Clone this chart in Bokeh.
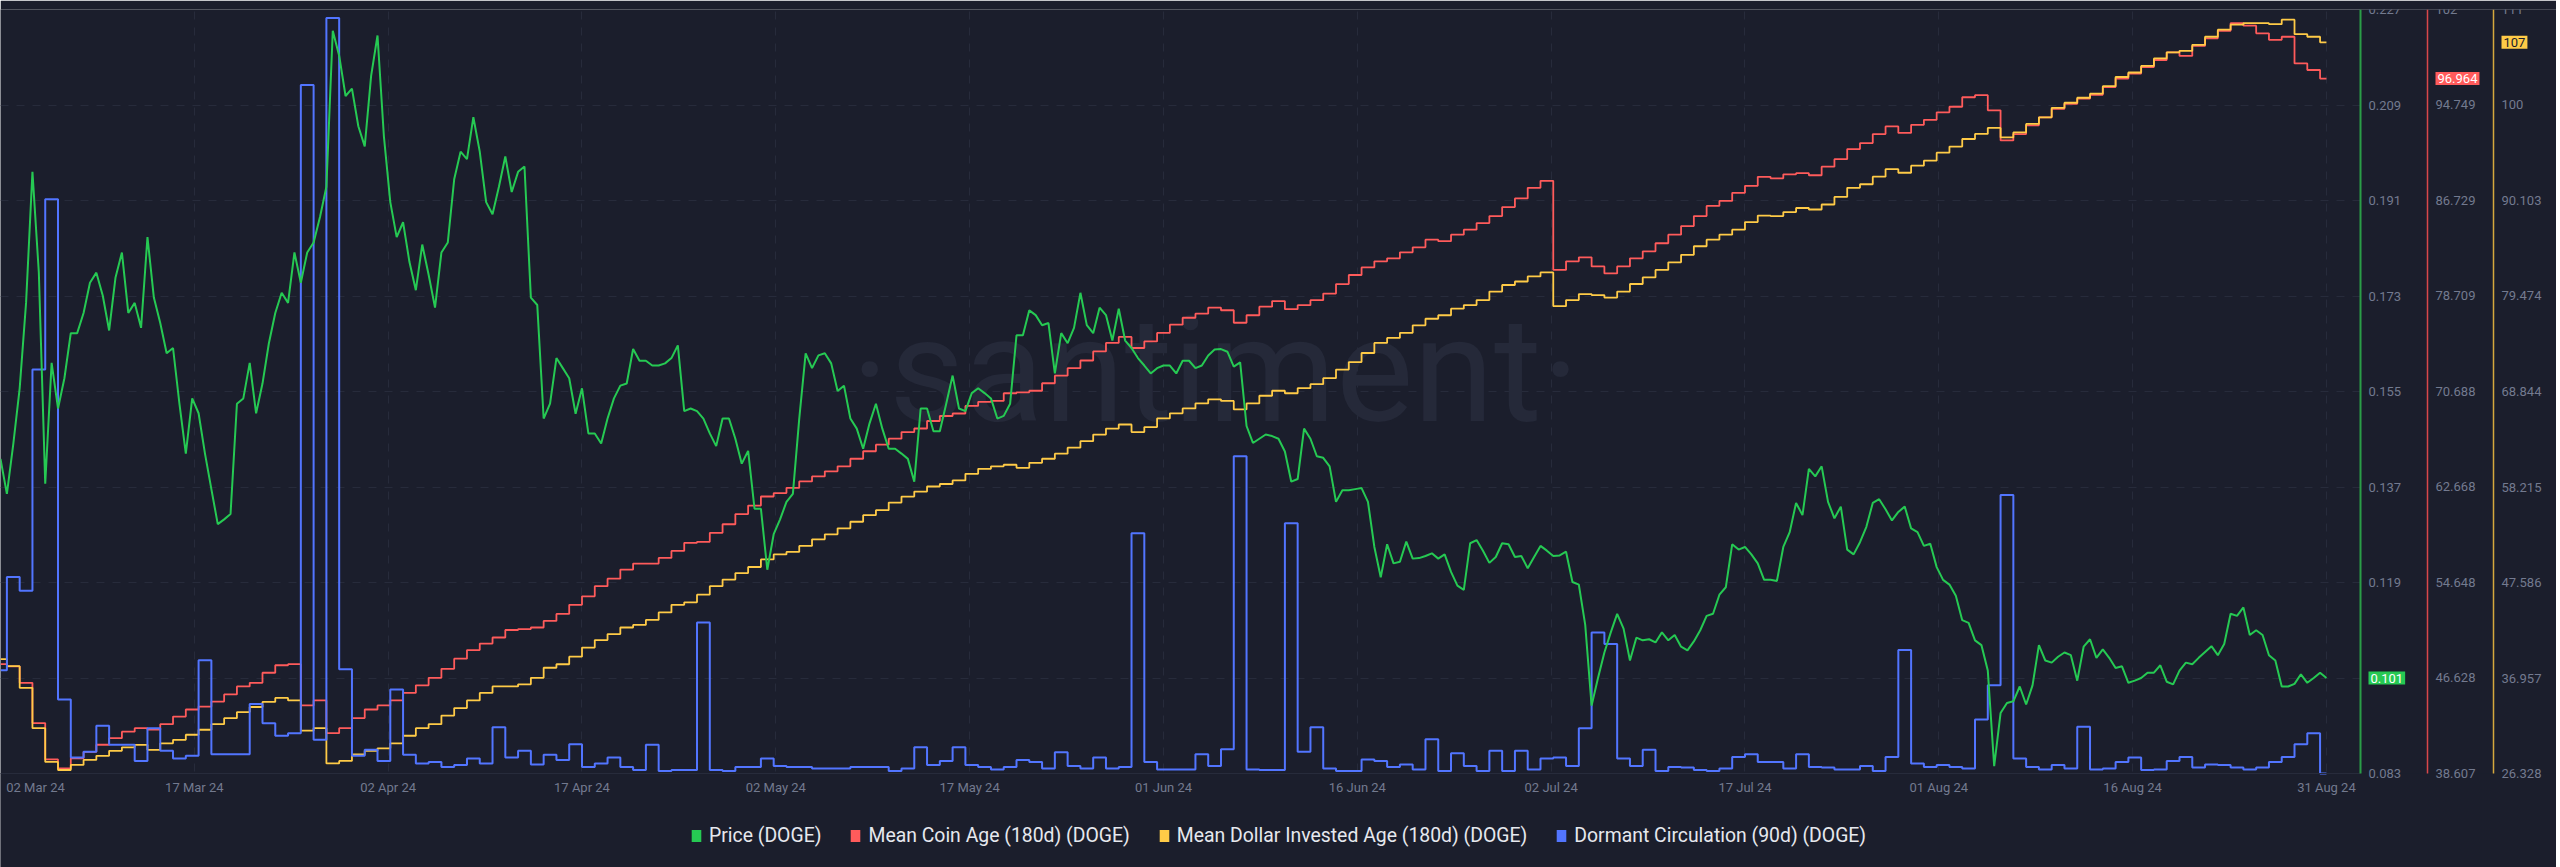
import datetime as dt
from bokeh.plotting import figure
from bokeh.models import (Range1d, LinearAxis, FixedTicker, Label, Legend, LegendItem, BoxAnnotation)
from bokeh.embed import file_html
from bokeh.resources import INLINE

# ---------------- data ----------------
START = dt.datetime(2024, 3, 2, 12, 0)   # first sample (price every 12h, daily metrics at noon)

price_doge = [
    0.1423, 0.1357, 0.1451, 0.1556, 0.1717, 0.1964, 0.1774, 0.1376, 0.1604, 0.1518,
    0.1575, 0.1660, 0.1660, 0.1698, 0.1755, 0.1774, 0.1731, 0.1665, 0.1765, 0.1812,
    0.1698, 0.1717, 0.1670, 0.1841, 0.1727, 0.1679, 0.1622, 0.1632, 0.1527, 0.1433,
    0.1537, 0.1509, 0.1433, 0.1366, 0.1300, 0.1309, 0.1319, 0.1527, 0.1537, 0.1604,
    0.1509, 0.1565, 0.1641, 0.1698, 0.1736, 0.1717, 0.1812, 0.1755, 0.1812, 0.1831,
    0.1879, 0.1936, 0.2230, 0.2183, 0.2107, 0.2121, 0.2050, 0.2012, 0.2145, 0.2221,
    0.2031, 0.1907, 0.1841, 0.1869, 0.1794, 0.1741, 0.1827, 0.1770, 0.1708, 0.1812,
    0.1831, 0.1950, 0.2002, 0.1988, 0.2067, 0.2002, 0.1907, 0.1884, 0.1936, 0.1993,
    0.1926, 0.1964, 0.1974, 0.1727, 0.1713, 0.1499, 0.1527, 0.1613, 0.1594, 0.1575,
    0.1508, 0.1556, 0.1471, 0.1471, 0.1452, 0.1499, 0.1537, 0.1561, 0.1565, 0.1630,
    0.1608, 0.1608, 0.1599, 0.1599, 0.1603, 0.1613, 0.1637, 0.1513, 0.1518, 0.1513,
    0.1499, 0.1471, 0.1447, 0.1499, 0.1499, 0.1461, 0.1414, 0.1438, 0.1329, 0.1329,
    0.1214, 0.1281, 0.1309, 0.1342, 0.1357, 0.1499, 0.1622, 0.1594, 0.1618, 0.1622,
    0.1603, 0.1551, 0.1561, 0.1499, 0.1480, 0.1442, 0.1490, 0.1527, 0.1480, 0.1442,
    0.1442, 0.1433, 0.1423, 0.1380, 0.1518, 0.1518, 0.1475, 0.1475, 0.1527, 0.1580,
    0.1518, 0.1513, 0.1547, 0.1556, 0.1547, 0.1537, 0.1499, 0.1504, 0.1527, 0.1656,
    0.1656, 0.1703, 0.1694, 0.1675, 0.1679, 0.1584, 0.1660, 0.1641, 0.1670, 0.1736,
    0.1675, 0.1660, 0.1708, 0.1694, 0.1646, 0.1706, 0.1646, 0.1632, 0.1613, 0.1599,
    0.1584, 0.1594, 0.1599, 0.1599, 0.1584, 0.1608, 0.1608, 0.1594, 0.1599, 0.1618,
    0.1629, 0.1630, 0.1625, 0.1597, 0.1605, 0.1485, 0.1453, 0.1461, 0.1469, 0.1466,
    0.1461, 0.1437, 0.1380, 0.1385, 0.1480, 0.1461, 0.1428, 0.1425, 0.1409, 0.1342,
    0.1364, 0.1364, 0.1366, 0.1368, 0.1342, 0.1257, 0.1200, 0.1262, 0.1226, 0.1229,
    0.1267, 0.1235, 0.1236, 0.1240, 0.1245, 0.1235, 0.1243, 0.1210, 0.1184, 0.1176,
    0.1264, 0.1270, 0.1250, 0.1227, 0.1238, 0.1264, 0.1262, 0.1238, 0.1240, 0.1217,
    0.1238, 0.1259, 0.1250, 0.1240, 0.1241, 0.1248, 0.1191, 0.1186, 0.1110, 0.0958,
    0.1010, 0.1058, 0.1096, 0.1131, 0.1103, 0.1043, 0.1086, 0.1081, 0.1083, 0.1077,
    0.1096, 0.1081, 0.1091, 0.1069, 0.1062, 0.1079, 0.1100, 0.1127, 0.1131, 0.1167,
    0.1181, 0.1262, 0.1252, 0.1257, 0.1243, 0.1226, 0.1195, 0.1195, 0.1193, 0.1257,
    0.1285, 0.1340, 0.1317, 0.1404, 0.1390, 0.1409, 0.1342, 0.1311, 0.1333, 0.1252,
    0.1243, 0.1266, 0.1295, 0.1340, 0.1347, 0.1328, 0.1307, 0.1323, 0.1333, 0.1292,
    0.1285, 0.1259, 0.1263, 0.1219, 0.1195, 0.1186, 0.1165, 0.1119, 0.1114, 0.1081,
    0.1072, 0.1024, 0.0844, 0.0944, 0.0963, 0.0966, 0.0994, 0.0960, 0.0996, 0.1072,
    0.1043, 0.1039, 0.1050, 0.1058, 0.1053, 0.1005, 0.1069, 0.1083, 0.1048, 0.1064,
    0.1048, 0.1029, 0.1032, 0.1001, 0.1005, 0.1010, 0.1020, 0.1020, 0.1034, 0.1003,
    0.0998, 0.1024, 0.1039, 0.1036, 0.1048, 0.1059, 0.1070, 0.1053, 0.1074, 0.1131,
    0.1127, 0.1143, 0.1091, 0.1100, 0.1091, 0.1053, 0.1043, 0.0994, 0.0994, 0.0999,
    0.1017, 0.1001, 0.1010, 0.1020, 0.1010,
]

mean_coin_age = [
    47.79, 47.61, 46.22, 42.84, 39.79, 39.03, 39.88, 40.43, 41.02, 41.57,
    42.12, 42.41, 42.29, 42.75, 43.39, 43.98, 44.23, 44.65, 45.25, 45.92,
    46.22, 47.07, 47.70, 47.79, 44.32, 44.74, 41.99, 42.41, 43.26, 43.98,
    44.32, 44.74, 45.37, 46.01, 46.64, 47.40, 48.25, 48.97, 49.52, 50.03,
    50.66, 50.74, 50.87, 51.42, 52.01, 52.77, 53.49, 54.34, 54.97, 55.73,
    56.24, 56.24, 56.71, 57.30, 57.98, 58.06, 58.82, 59.54, 60.39, 61.11,
    61.87, 62.16, 62.59, 63.14, 63.56, 63.98, 64.40, 65.04, 65.67, 66.22,
    66.73, 67.28, 67.58, 68.21, 68.63, 68.84, 69.48, 69.82, 69.90, 70.54,
    70.62, 70.75, 71.38, 72.02, 72.65, 73.29, 74.05, 74.77, 75.27, 74.34,
    74.89, 75.61, 76.30, 76.88, 77.22, 77.73, 77.51, 76.46, 77.09, 77.81,
    78.28, 77.60, 77.94, 78.36, 78.91, 79.71, 80.47, 81.11, 81.62, 81.87,
    82.38, 82.80, 83.44, 83.31, 83.86, 84.28, 84.83, 85.42, 86.18, 86.90,
    87.79, 88.38, 80.90, 81.62, 81.96, 81.19, 80.60, 81.19, 81.87, 82.46,
    83.14, 83.86, 84.58, 85.42, 86.27, 86.69, 87.37, 87.96, 88.72, 88.59,
    88.93, 89.02, 88.85, 89.57, 90.20, 91.05, 91.55, 92.31, 92.95, 92.40,
    93.08, 93.50, 94.13, 94.60, 95.40, 95.57, 94.30, 91.77, 92.31, 93.04,
    93.71, 94.43, 94.85, 95.28, 95.61, 96.25, 96.97, 97.39, 97.94, 98.53,
    99.17, 98.87, 99.71, 100.35, 100.98, 101.62, 101.41, 100.77, 100.22, 100.48,
    98.24, 97.69, 96.964,
]

mean_dollar_invested_age = [
    39.05, 38.27, 35.86, 31.37, 27.62, 26.72, 27.28, 27.84, 28.29, 28.85,
    29.24, 29.52, 28.96, 29.69, 30.08, 30.64, 31.20, 31.82, 32.49, 33.17,
    33.73, 34.29, 34.74, 34.46, 31.09, 31.37, 27.45, 27.73, 28.46, 28.85,
    29.13, 29.69, 30.53, 31.37, 31.82, 32.77, 33.61, 34.46, 35.30, 36.02,
    36.02, 36.25, 36.98, 38.10, 38.49, 39.33, 40.34, 41.18, 41.85, 42.58,
    42.86, 43.42, 44.26, 45.10, 45.38, 46.23, 47.18, 47.91, 48.64, 49.31,
    50.15, 50.71, 50.99, 51.66, 52.39, 52.95, 53.62, 54.35, 55.08, 55.64,
    56.48, 57.15, 57.71, 58.27, 58.55, 58.95, 59.68, 60.24, 60.52, 60.69,
    60.35, 60.91, 61.36, 61.92, 62.59, 63.32, 64.05, 64.72, 65.17, 64.33,
    64.89, 65.85, 66.41, 66.96, 67.52, 67.97, 67.80, 66.85, 67.52, 68.37,
    68.93, 68.65, 69.21, 69.66, 70.33, 71.28, 72.12, 73.13, 74.25, 74.81,
    75.37, 76.21, 76.94, 77.33, 78.06, 78.46, 79.02, 79.97, 80.70, 81.09,
    81.65, 82.10, 78.34, 79.02, 79.69, 79.58, 79.30, 79.97, 80.81, 81.54,
    82.38, 83.22, 84.06, 85.01, 85.74, 86.30, 86.86, 87.70, 88.43, 88.37,
    88.82, 89.27, 89.10, 89.66, 90.50, 91.51, 91.91, 92.75, 93.59, 93.19,
    93.98, 94.54, 95.43, 96.11, 96.95, 97.51, 98.18, 97.12, 97.68, 98.63,
    99.36, 100.42, 100.98, 101.54, 101.99, 102.83, 103.85, 104.35, 105.08, 105.92,
    106.59, 106.76, 107.43, 108.33, 109.11, 109.67, 109.84, 109.84, 109.73, 110.23,
    108.61, 108.33, 107.71,
]

dormant_circulation_m = [
    410, 780, 726, 1604, 2280, 294, 64, 86, 190, 114,
    114, 50, 180, 90, 60, 70, 450, 76, 76, 76,
    276, 200, 150, 160, 2734, 134, 3000, 414, 70, 94,
    50, 334, 74, 40, 46, 26, 34, 60, 40, 184,
    64, 90, 36, 74, 54, 116, 26, 40, 64, 26,
    14, 114, 10, 14, 14, 600, 14, 10, 26, 26,
    60, 30, 26, 26, 20, 20, 20, 26, 26, 26,
    10, 20, 104, 34, 50, 104, 34, 26, 16, 26,
    54, 46, 20, 84, 30, 20, 64, 20, 26, 954,
    46, 16, 16, 16, 76, 30, 96, 1260, 16, 14,
    14, 994, 86, 184, 20, 10, 10, 56, 50, 26,
    36, 16, 136, 10, 80, 30, 10, 90, 10, 90,
    16, 60, 64, 30, 180, 560, 514, 60, 30, 94,
    10, 26, 24, 14, 10, 20, 66, 76, 46, 46,
    20, 76, 26, 24, 16, 16, 30, 10, 66, 490,
    40, 26, 34, 26, 20, 214, 350, 1106, 60, 26,
    16, 34, 20, 186, 16, 20, 46, 64, 14, 16,
    50, 66, 24, 36, 34, 24, 16, 24, 46, 66,
    116, 160, 0,
]

x_tick_labels = ["02 Mar 24", "17 Mar 24", "02 Apr 24", "17 Apr 24", "02 May 24",
                 "17 May 24", "01 Jun 24", "16 Jun 24", "02 Jul 24", "17 Jul 24",
                 "01 Aug 24", "16 Aug 24", "31 Aug 24"]
price_ticks = [0.083, 0.101, 0.119, 0.137, 0.155, 0.173, 0.191, 0.209, 0.227]
price_tick_labels = ["0.083", "0.101", "0.119", "0.137", "0.155", "0.173", "0.191", "0.209", "0.227"]
age_ticks = [38.607, 46.628, 54.648, 62.668, 70.688, 78.709, 86.729, 94.749, 102.769]
age_tick_labels = ["38.607", "46.628", "54.648", "62.668", "70.688", "78.709", "86.729", "94.749", "102"]
mdia_ticks = [26.328, 36.957, 47.586, 58.215, 68.844, 79.474, 90.103, 100.732, 111.361]
mdia_tick_labels = ["26.328", "36.957", "47.586", "58.215", "68.844", "79.474", "90.103", "100", "111"]
dormant_range = (0, 3034)

series_names = ["Price (DOGE)", "Mean Coin Age (180d) (DOGE)",
                "Mean Dollar Invested Age (180d) (DOGE)", "Dormant Circulation (90d) (DOGE)"]

# ---------------- styling / layout ----------------
BG = "#1b1e2c"
GRID = "#272b3b"
TICK_TXT = "#737a8f"
GREEN, RED, YELLOW, BLUE = "#26c953", "#ff5b5b", "#ffcb47", "#5275ff"
FONT = "Roboto"
PX_PER_DAY = 12.78
W, H, TOP = 2556, 867, 9
PLOT_H = 764                          # height of the data area (top 9 .. bottom 773)
PLOT_RIGHT = 2360                     # where the price axis sits
AXIS_X = [2360, 2427, 2493]           # axis line positions (px)
EXT = (H - TOP) / PLOT_H              # frame also hosts the legend strip below the data

EPOCH = dt.datetime(1970, 1, 1)


def at_px(px):
    return START + dt.timedelta(days=px / PX_PER_DAY)


def ms(t):
    return float(round((t - EPOCH).total_seconds() * 1000))


def ext_range(lo, hi):
    return Range1d(hi - (hi - lo) * EXT, hi)


price_t = [START + dt.timedelta(hours=12 * i) for i in range(len(price_doge))]
daily_t = [START + dt.timedelta(days=i) for i in range(len(mean_coin_age))]

span_days = (daily_t[-1] - daily_t[0]).total_seconds() / 86400.0
tick_days = [k * span_days / 12 for k in range(13)]
tick_days[0] = 35 / PX_PER_DAY          # first label kept inside the left edge
tick_ms = [ms(START + dt.timedelta(days=d)) for d in tick_days]

p = figure(width=W, height=H, x_axis_type="datetime",
           x_range=Range1d(START, at_px(W)),
           y_range=ext_range(price_ticks[0], price_ticks[-1]),
           y_axis_location="right", output_backend="svg", toolbar_location=None,
           background_fill_color=BG, border_fill_color=BG, outline_line_color=None,
           min_border_left=0, min_border_top=TOP, min_border_right=0, min_border_bottom=0)

p.extra_y_ranges = {
    "age": ext_range(age_ticks[0], age_ticks[-1]),
    "mdia": ext_range(mdia_ticks[0], mdia_ticks[-1]),
    "dormant": ext_range(*dormant_range),
}

# grids (masked right of the price axis and below the time axis)
p.xgrid.ticker = FixedTicker(ticks=tick_ms[1:])
p.xgrid.grid_line_color = GRID
p.xgrid.grid_line_dash = "8 8"
p.ygrid.ticker = FixedTicker(ticks=price_ticks)
p.ygrid.grid_line_color = GRID
p.ygrid.grid_line_dash = "8 8"
p.add_layout(BoxAnnotation(left=ms(at_px(PLOT_RIGHT)), fill_color=BG, fill_alpha=1,
                           line_alpha=0, level="underlay"))
p.add_layout(BoxAnnotation(top=price_ticks[0], fill_color=BG, fill_alpha=1,
                           line_alpha=0, level="underlay"))

# x axis (sits on the bottom of the data area)
xa = p.xaxis[0]
xa.fixed_location = price_ticks[0]
xa.ticker = FixedTicker(ticks=tick_ms)
xa.major_label_overrides = dict(zip(tick_ms, x_tick_labels))
xa.bounds = (START, at_px(PLOT_RIGHT))
xa.axis_line_color = GRID
xa.major_tick_line_color = None
xa.minor_tick_line_color = None
xa.major_tick_out = 0
xa.major_label_standoff = 6
xa.major_label_text_font = FONT
xa.major_label_text_font_size = "13px"
xa.major_label_text_color = TICK_TXT


def style_y(ax, color, width, ticks, labels, px):
    ax.fixed_location = ms(at_px(px))
    ax.bounds = (ticks[0], ticks[-1])
    ax.ticker = FixedTicker(ticks=ticks)
    ax.major_label_overrides = dict(zip(ticks, labels))
    ax.axis_line_color = color
    ax.axis_line_width = width
    ax.major_tick_line_color = None
    ax.minor_tick_line_color = None
    ax.major_tick_out = 0
    ax.major_tick_in = 0
    ax.major_label_standoff = 8
    ax.major_label_text_font = FONT
    ax.major_label_text_font_size = "13px"
    ax.major_label_text_color = TICK_TXT


style_y(p.yaxis[0], "#2a9d47", 2, price_ticks, price_tick_labels, AXIS_X[0])
ax_age = LinearAxis(y_range_name="age")
style_y(ax_age, "#d9474a", 1.5, age_ticks, age_tick_labels, AXIS_X[1])
p.add_layout(ax_age, "right")
ax_mdia = LinearAxis(y_range_name="mdia")
style_y(ax_mdia, "#d4a83e", 1.5, mdia_ticks, mdia_tick_labels, AXIS_X[2])
p.add_layout(ax_mdia, "right")

# watermark
p.add_layout(Label(x=1215, y=496, x_units="screen", y_units="screen", text="·santiment·",
                   text_font=FONT, text_font_size="146px", text_color="#252939",
                   text_align="center", text_baseline="alphabetic", level="underlay"))

# series
r_age = p.step(daily_t, mean_coin_age, mode="center", color=RED, line_width=1.8, y_range_name="age")
r_mdia = p.step(daily_t, mean_dollar_invested_age, mode="center", color=YELLOW, line_width=1.8,
                y_range_name="mdia")
r_dorm = p.step(daily_t, dormant_circulation_m, mode="center", color=BLUE, line_width=2,
                y_range_name="dormant")
r_price = p.line(price_t, price_doge, color=GREEN, line_width=2)

# last-value badges on the axes
for txt, val, rng, fill, tcol, px in [
        (f"{price_doge[-1]:.3f}", price_doge[-1], "default", GREEN, "#ffffff", AXIS_X[0]),
        (f"{mean_coin_age[-1]:.3f}", mean_coin_age[-1], "age", RED, "#ffffff", AXIS_X[1]),
        (f"{int(mean_dollar_invested_age[-1])}", mean_dollar_invested_age[-1], "mdia", YELLOW, "#1b1e2c",
         AXIS_X[2])]:
    p.add_layout(Label(x=px + 8, y=val, x_units="screen", y_range_name=rng, text=txt,
                       text_font=FONT, text_font_size="13px", text_color=tcol,
                       text_align="left", text_baseline="middle",
                       background_fill_color=fill, background_fill_alpha=1, padding=2))

# legend with square swatches (zero-area swatch glyphs on each series' last point)
items = []
for name, color, yv, rng in zip(series_names, [GREEN, RED, YELLOW, BLUE],
                                [price_doge[-1], mean_coin_age[-1], mean_dollar_invested_age[-1],
                                 dormant_circulation_m[-1]],
                                ["default", "age", "mdia", "dormant"]):
    r = p.quad(left=[daily_t[-1]], right=[daily_t[-1]], top=[yv], bottom=[yv],
               fill_color=color, line_color=None, y_range_name=rng)
    items.append(LegendItem(label=name, renderers=[r]))
legend = Legend(items=items, orientation="horizontal", location=(690, 20),
                glyph_width=12, glyph_height=15, label_height=15, label_standoff=7,
                spacing=28, padding=0, margin=0, background_fill_alpha=0, border_line_alpha=0,
                label_text_color="#e6e8ee", label_text_font=FONT, label_text_font_size="19.4px")
p.add_layout(legend, "center")

open("out.html", "w").write(file_html(p, INLINE))
